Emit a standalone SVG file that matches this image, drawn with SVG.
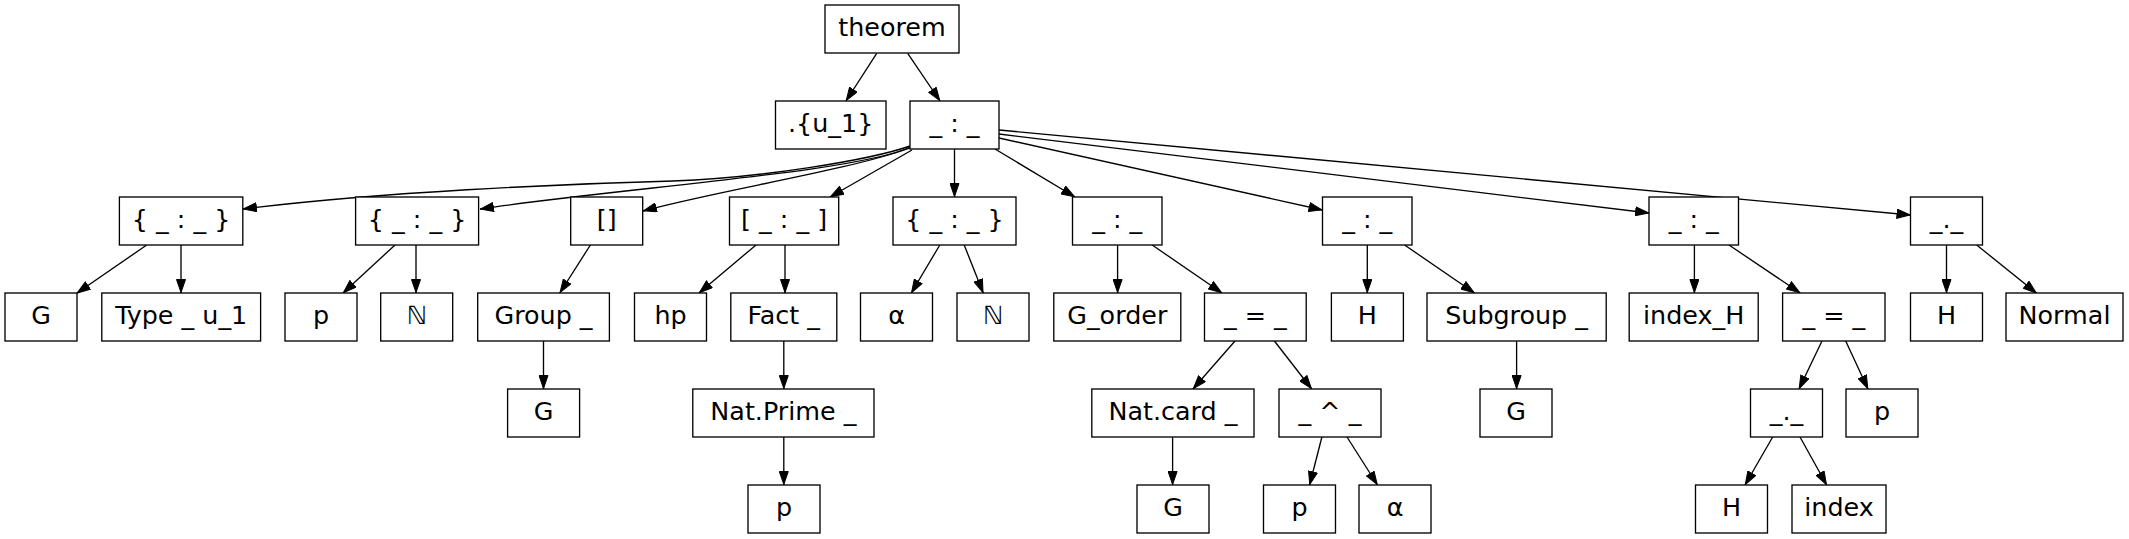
<svg xmlns="http://www.w3.org/2000/svg" width="2129" height="539" viewBox="0 0 2129 539">
<defs>
<style>
.n rect{fill:#fff;stroke:#000;stroke-width:1.33}
.n text{font-family:"DejaVu Sans",sans-serif;font-size:25.4px;fill:#000;text-anchor:middle}
#edges path{fill:none;stroke:#000;stroke-width:1.33;marker-end:url(#arr)}
</style>
<marker id="arr" viewBox="0 0 14 10" refX="14" refY="5" markerWidth="14" markerHeight="10" markerUnits="userSpaceOnUse" orient="auto">
<path d="M0.5,0.5 L13.5,5 L0.5,9.5 z" fill="#000" stroke="#000" stroke-width="1"/>
</marker>
</defs>
<rect x="0" y="0" width="2129" height="539" fill="#fff"/>
<g id="edges">
<path d="M876.7,53.3 L846,101"/>
<path d="M907.7,53.3 L940,101"/>
<path d="M910,146 C870,160 760,178 673,181 C560,184 380,192 243,209"/>
<path d="M910,147 C860,172 620,188 480,209"/>
<path d="M910,148 C850,170 720,190 643,211"/>
<path d="M912,150 L830,197"/>
<path d="M954.5,149 L954.5,197"/>
<path d="M995,149 L1075,197"/>
<path d="M999,138 L1322.5,210"/>
<path d="M999,134 L1649,213"/>
<path d="M999,130 L1910.5,215"/>
<path d="M146.7,245 L76.7,293.3"/>
<path d="M181,245 L181,293"/>
<path d="M395,245 L343,293"/>
<path d="M416,245 L416,293"/>
<path d="M590.4,245 L559.8,293"/>
<path d="M756,245 L699,293"/>
<path d="M785,245 L785,293"/>
<path d="M939.8,245 L911.3,293"/>
<path d="M964.2,245 L983.2,293"/>
<path d="M1117.6,245 L1117.6,293"/>
<path d="M1152.2,245 L1222,293"/>
<path d="M1367.3,245 L1367.3,293"/>
<path d="M1404.6,245 L1474.5,293"/>
<path d="M1694.4,245 L1694.4,293"/>
<path d="M1729,245 L1800.2,293"/>
<path d="M1946.5,245 L1946.5,293"/>
<path d="M1976.7,245 L2036.7,293.3"/>
<path d="M543.5,341 L543.5,389"/>
<path d="M783.8,341 L783.8,389"/>
<path d="M1235,341 L1193,389"/>
<path d="M1274.4,341 L1311.7,389"/>
<path d="M1516.6,341 L1516.6,389"/>
<path d="M1822,341 L1799,389"/>
<path d="M1845.7,341 L1868,389"/>
<path d="M783.8,437 L783.8,485"/>
<path d="M1172.6,437 L1172.6,485"/>
<path d="M1321.9,437 L1309.6,485"/>
<path d="M1347,437 L1377.5,485"/>
<path d="M1772.7,437 L1745,485"/>
<path d="M1800,437 L1826.7,485"/>
</g>
<g id="n0" class="n"><rect x="825" y="5" width="134" height="48"/><text x="892" y="35.6">theorem</text></g>
<g id="n1" class="n"><rect x="775.5" y="101" width="110.5" height="48"/><text x="830.7" y="131.6">.{u_1}</text></g>
<g id="n2" class="n"><rect x="910" y="101" width="89" height="48"/><text x="954.5" y="131.6">_ : _</text></g>
<g id="n3" class="n"><rect x="119.4" y="197" width="123.4" height="48"/><text x="181.1" y="227.6">{ _ : _ }</text></g>
<g id="n4" class="n"><rect x="355.6" y="197" width="123" height="48"/><text x="417.1" y="227.6">{ _ : _ }</text></g>
<g id="n5" class="n"><rect x="570.7" y="197" width="72" height="48"/><text x="606.7" y="227.6">[]</text></g>
<g id="n6" class="n"><rect x="729.5" y="197" width="109.2" height="48"/><text x="784.1" y="227.6">[ _ : _ ]</text></g>
<g id="n7" class="n"><rect x="893" y="197" width="123" height="48"/><text x="954.5" y="227.6">{ _ : _ }</text></g>
<g id="n8" class="n"><rect x="1072.5" y="197" width="89.5" height="48"/><text x="1117.2" y="227.6">_ : _</text></g>
<g id="n9" class="n"><rect x="1322.5" y="197" width="89.5" height="48"/><text x="1367.2" y="227.6">_ : _</text></g>
<g id="n10" class="n"><rect x="1649" y="197" width="89.5" height="48"/><text x="1693.7" y="227.6">_ : _</text></g>
<g id="n11" class="n"><rect x="1910.5" y="197" width="72" height="48"/><text x="1946.5" y="227.6">_._</text></g>
<g id="n12" class="n"><rect x="5" y="293" width="72" height="48"/><text x="41" y="323.6">G</text></g>
<g id="n13" class="n"><rect x="101.8" y="293" width="158.8" height="48"/><text x="181.2" y="323.6">Type _ u_1</text></g>
<g id="n14" class="n"><rect x="285" y="293" width="72" height="48"/><text x="321" y="323.6">p</text></g>
<g id="n15" class="n"><rect x="380.7" y="293" width="72" height="48"/><text x="416.7" y="323.6">ℕ</text></g>
<g id="n16" class="n"><rect x="477.7" y="293" width="131.7" height="48"/><text x="543.5" y="323.6">Group _</text></g>
<g id="n17" class="n"><rect x="634.5" y="293" width="72" height="48"/><text x="670.5" y="323.6">hp</text></g>
<g id="n18" class="n"><rect x="730.8" y="293" width="106" height="48"/><text x="783.8" y="323.6">Fact _</text></g>
<g id="n19" class="n"><rect x="860.5" y="293" width="72" height="48"/><text x="896.5" y="323.6">α</text></g>
<g id="n20" class="n"><rect x="957" y="293" width="72" height="48"/><text x="993" y="323.6">ℕ</text></g>
<g id="n21" class="n"><rect x="1053.8" y="293" width="127" height="48"/><text x="1117.3" y="323.6">G_order</text></g>
<g id="n22" class="n"><rect x="1204.5" y="293" width="101.7" height="48"/><text x="1255.3" y="323.6">_ = _</text></g>
<g id="n23" class="n"><rect x="1331.4" y="293" width="72" height="48"/><text x="1367.4" y="323.6">H</text></g>
<g id="n24" class="n"><rect x="1427" y="293" width="179.2" height="48"/><text x="1516.6" y="323.6">Subgroup _</text></g>
<g id="n25" class="n"><rect x="1629.2" y="293" width="129" height="48"/><text x="1693.7" y="323.6">index_H</text></g>
<g id="n26" class="n"><rect x="1782.6" y="293" width="102.4" height="48"/><text x="1833.8" y="323.6">_ = _</text></g>
<g id="n27" class="n"><rect x="1910.5" y="293" width="72" height="48"/><text x="1946.5" y="323.6">H</text></g>
<g id="n28" class="n"><rect x="2006" y="293" width="117" height="48"/><text x="2064.5" y="323.6">Normal</text></g>
<g id="n29" class="n"><rect x="507.6" y="389" width="72" height="48"/><text x="543.6" y="419.6">G</text></g>
<g id="n30" class="n"><rect x="692.8" y="389" width="181.2" height="48"/><text x="783.4" y="419.6">Nat.Prime _</text></g>
<g id="n31" class="n"><rect x="1091.8" y="389" width="162.2" height="48"/><text x="1172.9" y="419.6">Nat.card _</text></g>
<g id="n32" class="n"><rect x="1279" y="389" width="102" height="48"/><text x="1330" y="419.6">_ ^ _</text></g>
<g id="n33" class="n"><rect x="1480" y="389" width="72" height="48"/><text x="1516" y="419.6">G</text></g>
<g id="n34" class="n"><rect x="1750.5" y="389" width="72" height="48"/><text x="1786.5" y="419.6">_._</text></g>
<g id="n35" class="n"><rect x="1846" y="389" width="72" height="48"/><text x="1882" y="419.6">p</text></g>
<g id="n36" class="n"><rect x="748" y="485" width="72" height="48"/><text x="784" y="515.6">p</text></g>
<g id="n37" class="n"><rect x="1137" y="485" width="72" height="48"/><text x="1173" y="515.6">G</text></g>
<g id="n38" class="n"><rect x="1263.5" y="485" width="72" height="48"/><text x="1299.5" y="515.6">p</text></g>
<g id="n39" class="n"><rect x="1359" y="485" width="72" height="48"/><text x="1395" y="515.6">α</text></g>
<g id="n40" class="n"><rect x="1695.5" y="485" width="72" height="48"/><text x="1731.5" y="515.6">H</text></g>
<g id="n41" class="n"><rect x="1792" y="485" width="94" height="48"/><text x="1839" y="515.6">index</text></g>
</svg>
